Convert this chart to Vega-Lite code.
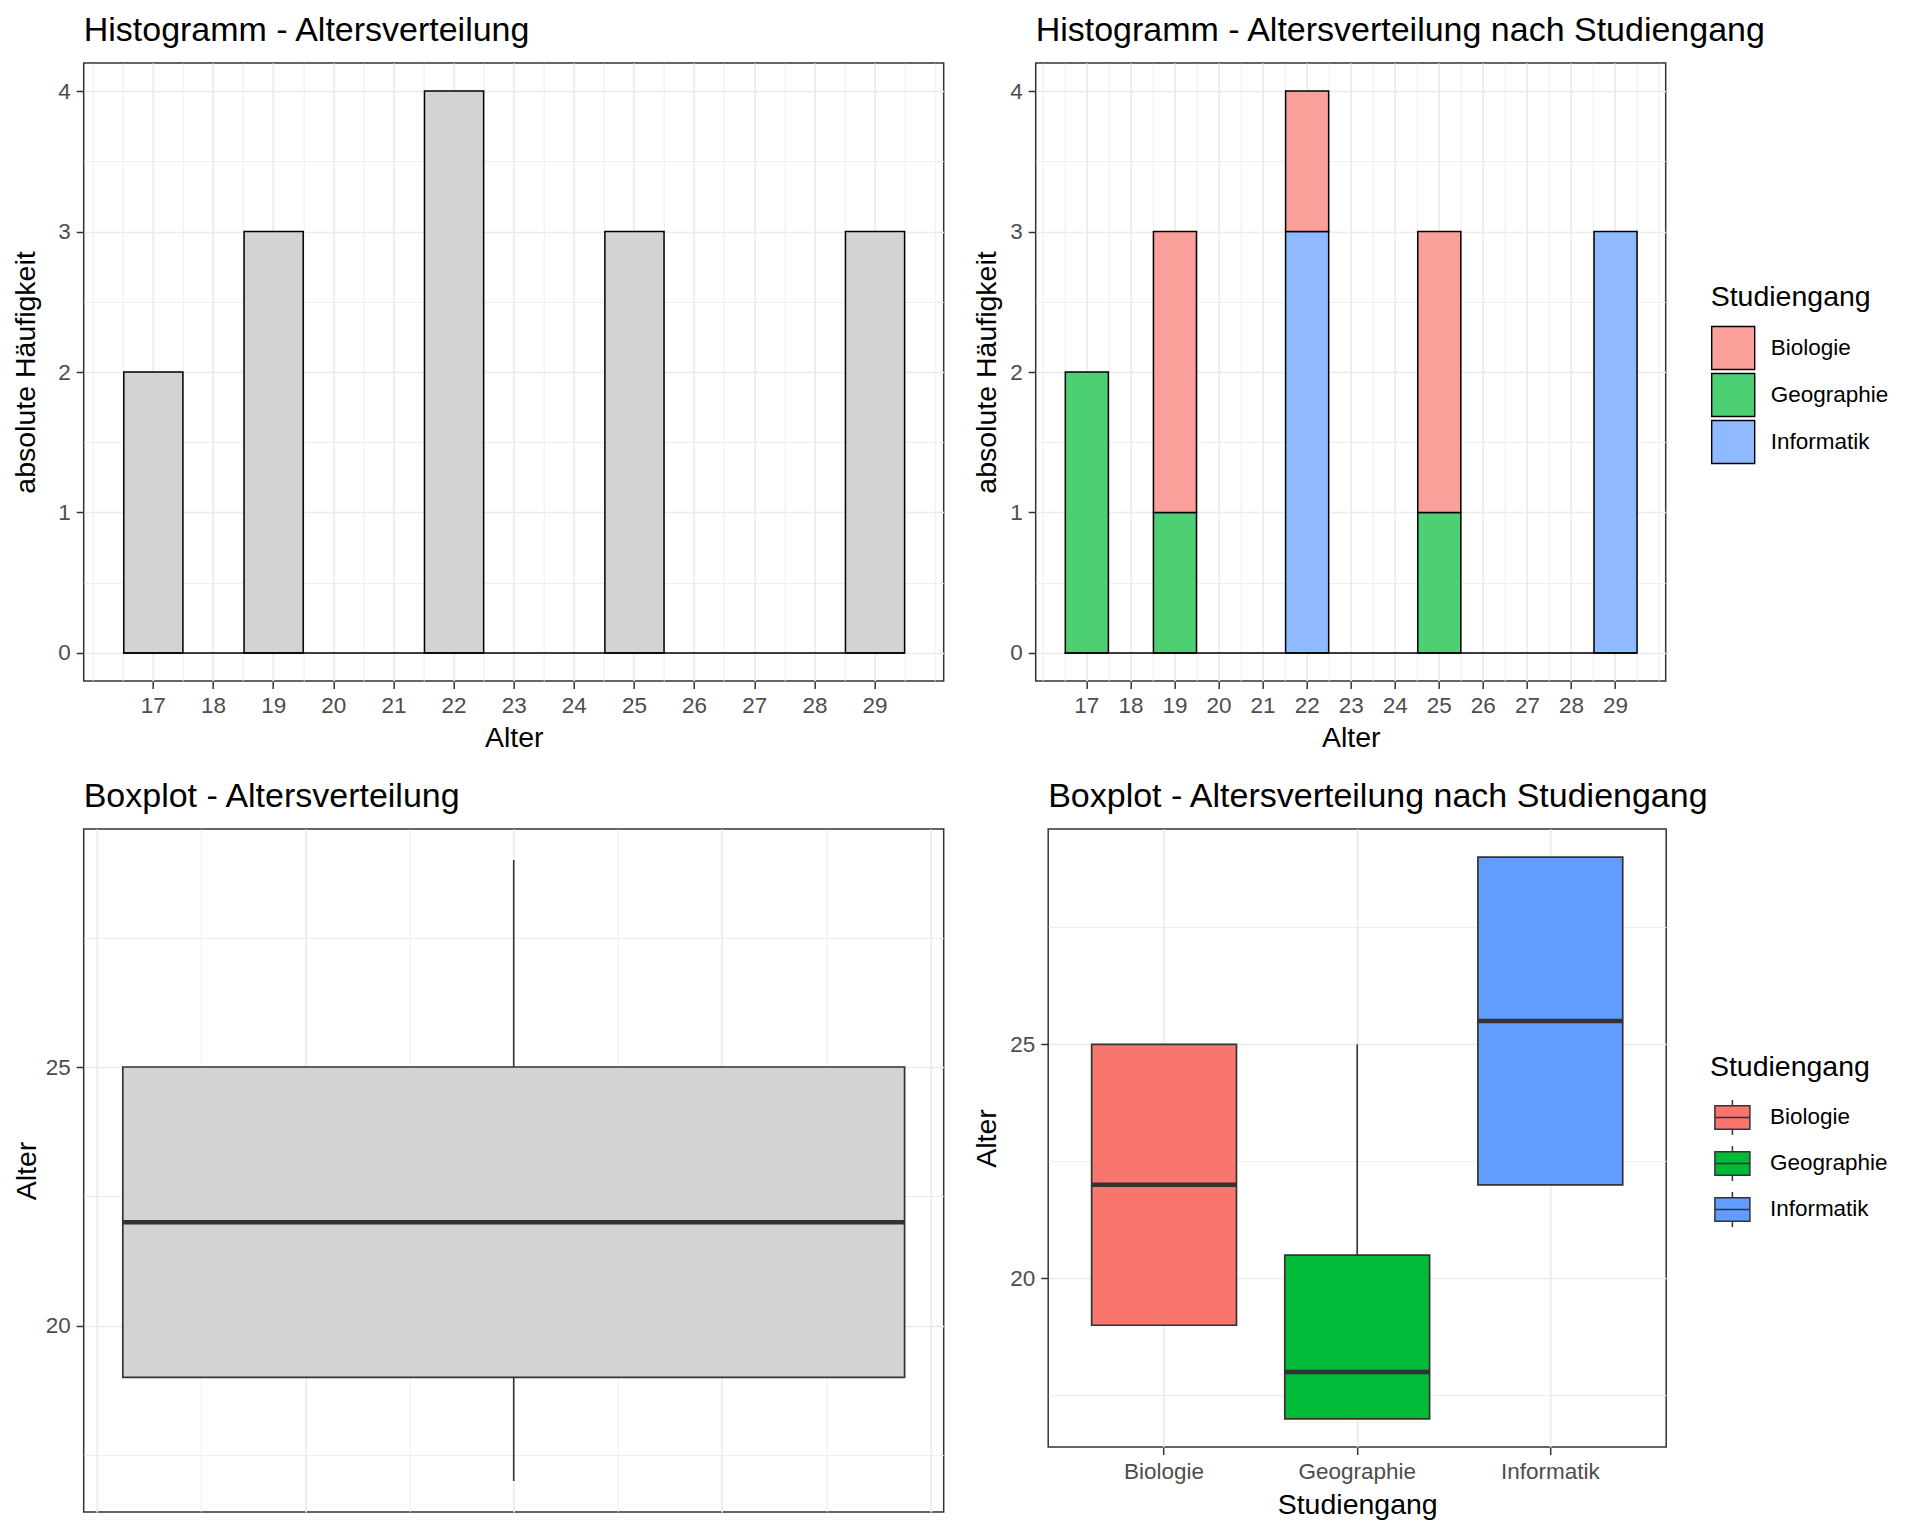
{
  "$schema": "https://vega.github.io/schema/vega-lite/v6.json",
  "background": "white",
  "padding": {"left": 10.7, "top": 13, "right": 10, "bottom": 10},
  "datasets": {
    "students": [
      {"Alter": 17, "Studiengang": "Geographie"},
      {"Alter": 17, "Studiengang": "Geographie"},
      {"Alter": 19, "Studiengang": "Geographie"},
      {"Alter": 19, "Studiengang": "Biologie"},
      {"Alter": 19, "Studiengang": "Biologie"},
      {"Alter": 22, "Studiengang": "Informatik"},
      {"Alter": 22, "Studiengang": "Informatik"},
      {"Alter": 22, "Studiengang": "Informatik"},
      {"Alter": 22, "Studiengang": "Biologie"},
      {"Alter": 25, "Studiengang": "Geographie"},
      {"Alter": 25, "Studiengang": "Biologie"},
      {"Alter": 25, "Studiengang": "Biologie"},
      {"Alter": 29, "Studiengang": "Informatik"},
      {"Alter": 29, "Studiengang": "Informatik"},
      {"Alter": 29, "Studiengang": "Informatik"}
    ]
  },
  "resolve": {"scale": {"color": "independent"}, "legend": {"color": "independent"}},
  "columns": 1,
  "align": "none",
  "spacing": 26,
  "concat": [
    {
      "spacing": 27,
      "resolve": {"scale": {"color": "independent"}, "legend": {"color": "independent"}},
      "hconcat": [
        {
          "width": 860,
          "height": 618,
          "title": {"text": "Histogramm - Altersverteilung"},
          "data": {"name": "students"},
          "layer": [
            {
              "transform": [
                {"bin": {"step": 1, "extent": [16.5, 29.5], "nice": false, "anchor": 16.5}, "field": "Alter", "as": ["b0", "b1"]},
                {"aggregate": [{"op": "count", "as": "Anzahl"}], "groupby": ["b0", "b1"]}
              ],
              "mark": {"type": "bar", "fill": "#D3D3D3", "stroke": "black", "strokeWidth": 1.5},
              "encoding": {
                "x": {"field": "b0", "type": "quantitative", "bin": "binned", "scale": {"domain": [15.85, 30.15], "nice": false, "zero": false},
                  "axis": {"title": "Alter", "values": [16,16.5,17,17.5,18,18.5,19,19.5,20,20.5,21,21.5,22,22.5,23,23.5,24,24.5,25,25.5,26,26.5,27,27.5,28,28.5,29,29.5,30], "grid": true,
                    "labelExpr": "(datum.value % 1 === 0 && datum.value >= 17 && datum.value <= 29) ? format(datum.value, 'd') : ''",
                    "gridWidth": {"condition": {"test": "datum.value % 1 !== 0 || datum.value < 17 || datum.value > 29", "value": 0.85}, "value": 1.7},
                    "tickOpacity": {"condition": {"test": "datum.value % 1 !== 0 || datum.value < 17 || datum.value > 29", "value": 0}, "value": 1},
                    "titlePadding": 6}},
                "x2": {"field": "b1"},
                "y": {"field": "Anzahl", "type": "quantitative", "scale": {"domain": [-0.2, 4.2], "nice": false, "zero": false},
                  "axis": {"title": "absolute Häufigkeit", "values": [0,0.5,1,1.5,2,2.5,3,3.5,4], "grid": true,
                    "labelExpr": "datum.value % 1 === 0 ? format(datum.value, 'd') : ''",
                    "gridWidth": {"condition": {"test": "datum.value % 1 !== 0", "value": 0.85}, "value": 1.7},
                    "tickOpacity": {"condition": {"test": "datum.value % 1 !== 0", "value": 0}, "value": 1},
                    "titlePadding": 16.75}}
              }
            },
            {
              "transform": [
                {"bin": {"step": 1, "extent": [16.5, 29.5], "nice": false, "anchor": 16.5}, "field": "Alter", "as": ["b0", "b1"]},
                {"aggregate": [{"op": "min", "field": "b0", "as": "lo"}, {"op": "max", "field": "b1", "as": "hi"}]}
              ],
              "mark": {"type": "rule", "color": "black", "strokeWidth": 1.5},
              "encoding": {
                "x": {"field": "lo", "type": "quantitative", "scale": {"domain": [15.85, 30.15], "nice": false, "zero": false},
                  "axis": {"title": "Alter", "values": [16,16.5,17,17.5,18,18.5,19,19.5,20,20.5,21,21.5,22,22.5,23,23.5,24,24.5,25,25.5,26,26.5,27,27.5,28,28.5,29,29.5,30], "grid": true,
                    "labelExpr": "(datum.value % 1 === 0 && datum.value >= 17 && datum.value <= 29) ? format(datum.value, 'd') : ''",
                    "gridWidth": {"condition": {"test": "datum.value % 1 !== 0 || datum.value < 17 || datum.value > 29", "value": 0.85}, "value": 1.7},
                    "tickOpacity": {"condition": {"test": "datum.value % 1 !== 0 || datum.value < 17 || datum.value > 29", "value": 0}, "value": 1},
                    "titlePadding": 6}},
                "x2": {"field": "hi"},
                "y": {"datum": 0, "type": "quantitative", "scale": {"domain": [-0.2, 4.2], "nice": false, "zero": false},
                  "axis": {"title": "absolute Häufigkeit", "values": [0,0.5,1,1.5,2,2.5,3,3.5,4], "grid": true,
                    "labelExpr": "datum.value % 1 === 0 ? format(datum.value, 'd') : ''",
                    "gridWidth": {"condition": {"test": "datum.value % 1 !== 0", "value": 0.85}, "value": 1.7},
                    "tickOpacity": {"condition": {"test": "datum.value % 1 !== 0", "value": 0}, "value": 1},
                    "titlePadding": 16.75}}
              }
            }
          ]
        },
        {
          "width": 630,
          "height": 618,
          "title": {"text": "Histogramm - Altersverteilung nach Studiengang"},
          "data": {"name": "students"},
          "layer": [
            {
              "transform": [
                {"bin": {"step": 1, "extent": [16.5, 29.5], "nice": false, "anchor": 16.5}, "field": "Alter", "as": ["b0", "b1"]},
                {"aggregate": [{"op": "count", "as": "Anzahl"}], "groupby": ["b0", "b1", "Studiengang"]}
              ],
              "mark": {"type": "bar", "stroke": "black", "strokeWidth": 1.5},
              "encoding": {
                "x": {"field": "b0", "type": "quantitative", "bin": "binned", "scale": {"domain": [15.85, 30.15], "nice": false, "zero": false},
                  "axis": {"title": "Alter", "values": [16,16.5,17,17.5,18,18.5,19,19.5,20,20.5,21,21.5,22,22.5,23,23.5,24,24.5,25,25.5,26,26.5,27,27.5,28,28.5,29,29.5,30], "grid": true,
                    "labelExpr": "(datum.value % 1 === 0 && datum.value >= 17 && datum.value <= 29) ? format(datum.value, 'd') : ''",
                    "gridWidth": {"condition": {"test": "datum.value % 1 !== 0 || datum.value < 17 || datum.value > 29", "value": 0.85}, "value": 1.7},
                    "tickOpacity": {"condition": {"test": "datum.value % 1 !== 0 || datum.value < 17 || datum.value > 29", "value": 0}, "value": 1},
                    "titlePadding": 6}},
                "x2": {"field": "b1"},
                "y": {"field": "Anzahl", "type": "quantitative", "stack": "zero", "scale": {"domain": [-0.2, 4.2], "nice": false, "zero": false},
                  "axis": {"title": "absolute Häufigkeit", "values": [0,0.5,1,1.5,2,2.5,3,3.5,4], "grid": true,
                    "labelExpr": "datum.value % 1 === 0 ? format(datum.value, 'd') : ''",
                    "gridWidth": {"condition": {"test": "datum.value % 1 !== 0", "value": 0.85}, "value": 1.7},
                    "tickOpacity": {"condition": {"test": "datum.value % 1 !== 0", "value": 0}, "value": 1},
                    "titlePadding": 8}},
                "color": {"field": "Studiengang", "type": "nominal",
                  "scale": {"domain": ["Biologie", "Geographie", "Informatik"], "range": ["#FA9F99", "#4DCF74", "#90BAFF"]},
                  "legend": {"title": "Studiengang", "orient": "none", "legendX": 675, "legendY": 220, "direction": "vertical",
                    "symbolType": "square", "symbolSize": 1849, "symbolStrokeColor": "black", "symbolStrokeWidth": 1.4,
                    "labelOffset": 15, "rowPadding": -3, "titlePadding": 14}},
                "order": {"field": "Studiengang", "sort": "descending"}
              }
            },
            {
              "transform": [
                {"bin": {"step": 1, "extent": [16.5, 29.5], "nice": false, "anchor": 16.5}, "field": "Alter", "as": ["b0", "b1"]},
                {"aggregate": [{"op": "min", "field": "b0", "as": "lo"}, {"op": "max", "field": "b1", "as": "hi"}]}
              ],
              "mark": {"type": "rule", "color": "black", "strokeWidth": 1.5},
              "encoding": {
                "x": {"field": "lo", "type": "quantitative", "scale": {"domain": [15.85, 30.15], "nice": false, "zero": false},
                  "axis": {"title": "Alter", "values": [16,16.5,17,17.5,18,18.5,19,19.5,20,20.5,21,21.5,22,22.5,23,23.5,24,24.5,25,25.5,26,26.5,27,27.5,28,28.5,29,29.5,30], "grid": true,
                    "labelExpr": "(datum.value % 1 === 0 && datum.value >= 17 && datum.value <= 29) ? format(datum.value, 'd') : ''",
                    "gridWidth": {"condition": {"test": "datum.value % 1 !== 0 || datum.value < 17 || datum.value > 29", "value": 0.85}, "value": 1.7},
                    "tickOpacity": {"condition": {"test": "datum.value % 1 !== 0 || datum.value < 17 || datum.value > 29", "value": 0}, "value": 1},
                    "titlePadding": 6}},
                "x2": {"field": "hi"},
                "y": {"datum": 0, "type": "quantitative", "scale": {"domain": [-0.2, 4.2], "nice": false, "zero": false},
                  "axis": {"title": "absolute Häufigkeit", "values": [0,0.5,1,1.5,2,2.5,3,3.5,4], "grid": true,
                    "labelExpr": "datum.value % 1 === 0 ? format(datum.value, 'd') : ''",
                    "gridWidth": {"condition": {"test": "datum.value % 1 !== 0", "value": 0.85}, "value": 1.7},
                    "tickOpacity": {"condition": {"test": "datum.value % 1 !== 0", "value": 0}, "value": 1},
                    "titlePadding": 8}}
              }
            }
          ]
        }
      ]
    },
    {
      "spacing": 26.5,
      "resolve": {"scale": {"color": "independent"}, "legend": {"color": "independent"}},
      "hconcat": [
        {
          "width": 860,
          "height": 683,
          "title": {"text": "Boxplot - Altersverteilung"},
          "data": {"name": "students"},
          "transform": [
            {"aggregate": [
              {"op": "min", "field": "Alter", "as": "lo"},
              {"op": "q1", "field": "Alter", "as": "q1"},
              {"op": "median", "field": "Alter", "as": "med"},
              {"op": "q3", "field": "Alter", "as": "q3"},
              {"op": "max", "field": "Alter", "as": "hi"}
            ]}
          ],
          "layer": [
            {
              "mark": {"type": "rule", "color": "#333333", "strokeWidth": 1.6},
              "encoding": {
                "x": {"datum": 0, "type": "quantitative", "scale": {"domain": [-0.4125, 0.4125], "nice": false, "zero": false},
                  "axis": {"title": null, "values": [-0.4,-0.3,-0.2,-0.1,0,0.1,0.2,0.3,0.4], "grid": true, "labels": false, "ticks": false,
                    "gridWidth": {"condition": {"test": "abs(round(datum.value*10)) % 2 === 1", "value": 0.85}, "value": 1.7}}},
                "y": {"field": "lo", "type": "quantitative", "scale": {"domain": [16.4, 29.6], "nice": false, "zero": false},
                  "axis": {"title": "Alter", "values": [17.5,20,22.5,25,27.5], "grid": true,
                    "labelExpr": "datum.value % 5 === 0 ? format(datum.value, 'd') : ''",
                    "gridWidth": {"condition": {"test": "datum.value % 5 !== 0", "value": 0.85}, "value": 1.7},
                    "tickOpacity": {"condition": {"test": "datum.value % 5 !== 0", "value": 0}, "value": 1},
                    "titlePadding": 4}},
                "y2": {"field": "hi"}
              }
            },
            {
              "mark": {"type": "bar", "fill": "#D3D3D3", "stroke": "#333333", "strokeWidth": 1.7},
              "encoding": {
                "x": {"datum": -0.375, "type": "quantitative", "scale": {"domain": [-0.4125, 0.4125], "nice": false, "zero": false},
                  "axis": {"title": null, "values": [-0.4,-0.3,-0.2,-0.1,0,0.1,0.2,0.3,0.4], "grid": true, "labels": false, "ticks": false,
                    "gridWidth": {"condition": {"test": "abs(round(datum.value*10)) % 2 === 1", "value": 0.85}, "value": 1.7}}},
                "x2": {"datum": 0.375},
                "y": {"field": "q1", "type": "quantitative", "scale": {"domain": [16.4, 29.6], "nice": false, "zero": false},
                  "axis": {"title": "Alter", "values": [17.5,20,22.5,25,27.5], "grid": true,
                    "labelExpr": "datum.value % 5 === 0 ? format(datum.value, 'd') : ''",
                    "gridWidth": {"condition": {"test": "datum.value % 5 !== 0", "value": 0.85}, "value": 1.7},
                    "tickOpacity": {"condition": {"test": "datum.value % 5 !== 0", "value": 0}, "value": 1},
                    "titlePadding": 4}},
                "y2": {"field": "q3"}
              }
            },
            {
              "mark": {"type": "rule", "color": "#333333", "strokeWidth": 4.5},
              "encoding": {
                "x": {"datum": -0.375, "type": "quantitative", "scale": {"domain": [-0.4125, 0.4125], "nice": false, "zero": false},
                  "axis": {"title": null, "values": [-0.4,-0.3,-0.2,-0.1,0,0.1,0.2,0.3,0.4], "grid": true, "labels": false, "ticks": false,
                    "gridWidth": {"condition": {"test": "abs(round(datum.value*10)) % 2 === 1", "value": 0.85}, "value": 1.7}}},
                "x2": {"datum": 0.375},
                "y": {"field": "med", "type": "quantitative", "scale": {"domain": [16.4, 29.6], "nice": false, "zero": false},
                  "axis": {"title": "Alter", "values": [17.5,20,22.5,25,27.5], "grid": true,
                    "labelExpr": "datum.value % 5 === 0 ? format(datum.value, 'd') : ''",
                    "gridWidth": {"condition": {"test": "datum.value % 5 !== 0", "value": 0.85}, "value": 1.7},
                    "tickOpacity": {"condition": {"test": "datum.value % 5 !== 0", "value": 0}, "value": 1},
                    "titlePadding": 4}}
              }
            }
          ]
        },
        {
          "width": 618,
          "height": 618,
          "title": {"text": "Boxplot - Altersverteilung nach Studiengang"},
          "data": {"name": "students"},
          "transform": [
            {"aggregate": [
              {"op": "min", "field": "Alter", "as": "lo"},
              {"op": "q1", "field": "Alter", "as": "q1"},
              {"op": "median", "field": "Alter", "as": "med"},
              {"op": "q3", "field": "Alter", "as": "q3"},
              {"op": "max", "field": "Alter", "as": "hi"}
            ], "groupby": ["Studiengang"]}
          ],
          "encoding": {
            "x": {"field": "Studiengang", "type": "nominal", "sort": ["Biologie", "Geographie", "Informatik"],
              "scale": {"type": "band", "paddingInner": 0, "paddingOuter": 0.1},
              "axis": {"title": "Studiengang", "grid": true, "labelAngle": 0, "gridWidth": 1.7, "titlePadding": 8}}
          },
          "layer": [
            {
              "mark": {"type": "rule", "color": "#333333", "strokeWidth": 1.6},
              "encoding": {
                "y": {"field": "lo", "type": "quantitative", "scale": {"domain": [16.4, 29.6], "nice": false, "zero": false},
                  "axis": {"title": "Alter", "values": [17.5,20,22.5,25,27.5], "grid": true,
                    "labelExpr": "datum.value % 5 === 0 ? format(datum.value, 'd') : ''",
                    "gridWidth": {"condition": {"test": "datum.value % 5 !== 0", "value": 0.85}, "value": 1.7},
                    "tickOpacity": {"condition": {"test": "datum.value % 5 !== 0", "value": 0}, "value": 1},
                    "titlePadding": 8}},
                "y2": {"field": "hi"}
              }
            },
            {
              "mark": {"type": "bar", "stroke": "#333333", "strokeWidth": 1.7, "width": {"band": 0.75}},
              "encoding": {
                "y": {"field": "q1", "type": "quantitative", "scale": {"domain": [16.4, 29.6], "nice": false, "zero": false},
                  "axis": {"title": "Alter", "values": [17.5,20,22.5,25,27.5], "grid": true,
                    "labelExpr": "datum.value % 5 === 0 ? format(datum.value, 'd') : ''",
                    "gridWidth": {"condition": {"test": "datum.value % 5 !== 0", "value": 0.85}, "value": 1.7},
                    "tickOpacity": {"condition": {"test": "datum.value % 5 !== 0", "value": 0}, "value": 1},
                    "titlePadding": 8}},
                "y2": {"field": "q3"},
                "color": {"field": "Studiengang", "type": "nominal",
                  "scale": {"domain": ["Biologie", "Geographie", "Informatik"], "range": ["#F8766D", "#00BA38", "#619CFF"]},
                  "legend": {"title": "Studiengang", "orient": "none", "legendX": 661.7, "legendY": 224, "direction": "vertical",
                    "symbolType": "M-0.814,-0.551H0.814V0.551H-0.814Z M-0.814,0H0.814 M0,-0.814V-0.551 M0,0.551V0.814",
                    "symbolSize": 1849, "symbolStrokeColor": "#333333", "symbolStrokeWidth": 1.5,
                    "labelOffset": 15, "rowPadding": 2, "titlePadding": 13.5}}
              }
            },
            {
              "mark": {"type": "tick", "color": "#333333", "thickness": 4.5, "size": 145, "opacity": 1},
              "encoding": {
                "y": {"field": "med", "type": "quantitative", "scale": {"domain": [16.4, 29.6], "nice": false, "zero": false},
                  "axis": {"title": "Alter", "values": [17.5,20,22.5,25,27.5], "grid": true,
                    "labelExpr": "datum.value % 5 === 0 ? format(datum.value, 'd') : ''",
                    "gridWidth": {"condition": {"test": "datum.value % 5 !== 0", "value": 0.85}, "value": 1.7},
                    "tickOpacity": {"condition": {"test": "datum.value % 5 !== 0", "value": 0}, "value": 1},
                    "titlePadding": 8}}
              }
            }
          ]
        }
      ]
    }
  ],
  "config": {
    "font": "Liberation Sans",
    "view": {"stroke": "#333333", "strokeWidth": 1.5},
    "axis": {
      "domain": false,
      "gridColor": "#EBEBEB",
      "tickColor": "#333333",
      "tickSize": 7.5,
      "tickWidth": 1.5,
      "labelColor": "#4D4D4D",
      "labelFontSize": 22.5,
      "labelPadding": 6,
      "labelOverlap": false,
      "labelFlush": false,
      "titleFontSize": 28.5,
      "titleFontWeight": "normal",
      "titleColor": "black"
    },
    "title": {"anchor": "start", "frame": "group", "fontSize": 34, "fontWeight": "normal", "color": "black", "baseline": "alphabetic", "offset": 15},
    "legend": {
      "titleFontSize": 28.5,
      "titleFontWeight": "normal",
      "titleColor": "black",
      "labelFontSize": 22.5,
      "labelColor": "black",
      "padding": 0
    }
  }
}
